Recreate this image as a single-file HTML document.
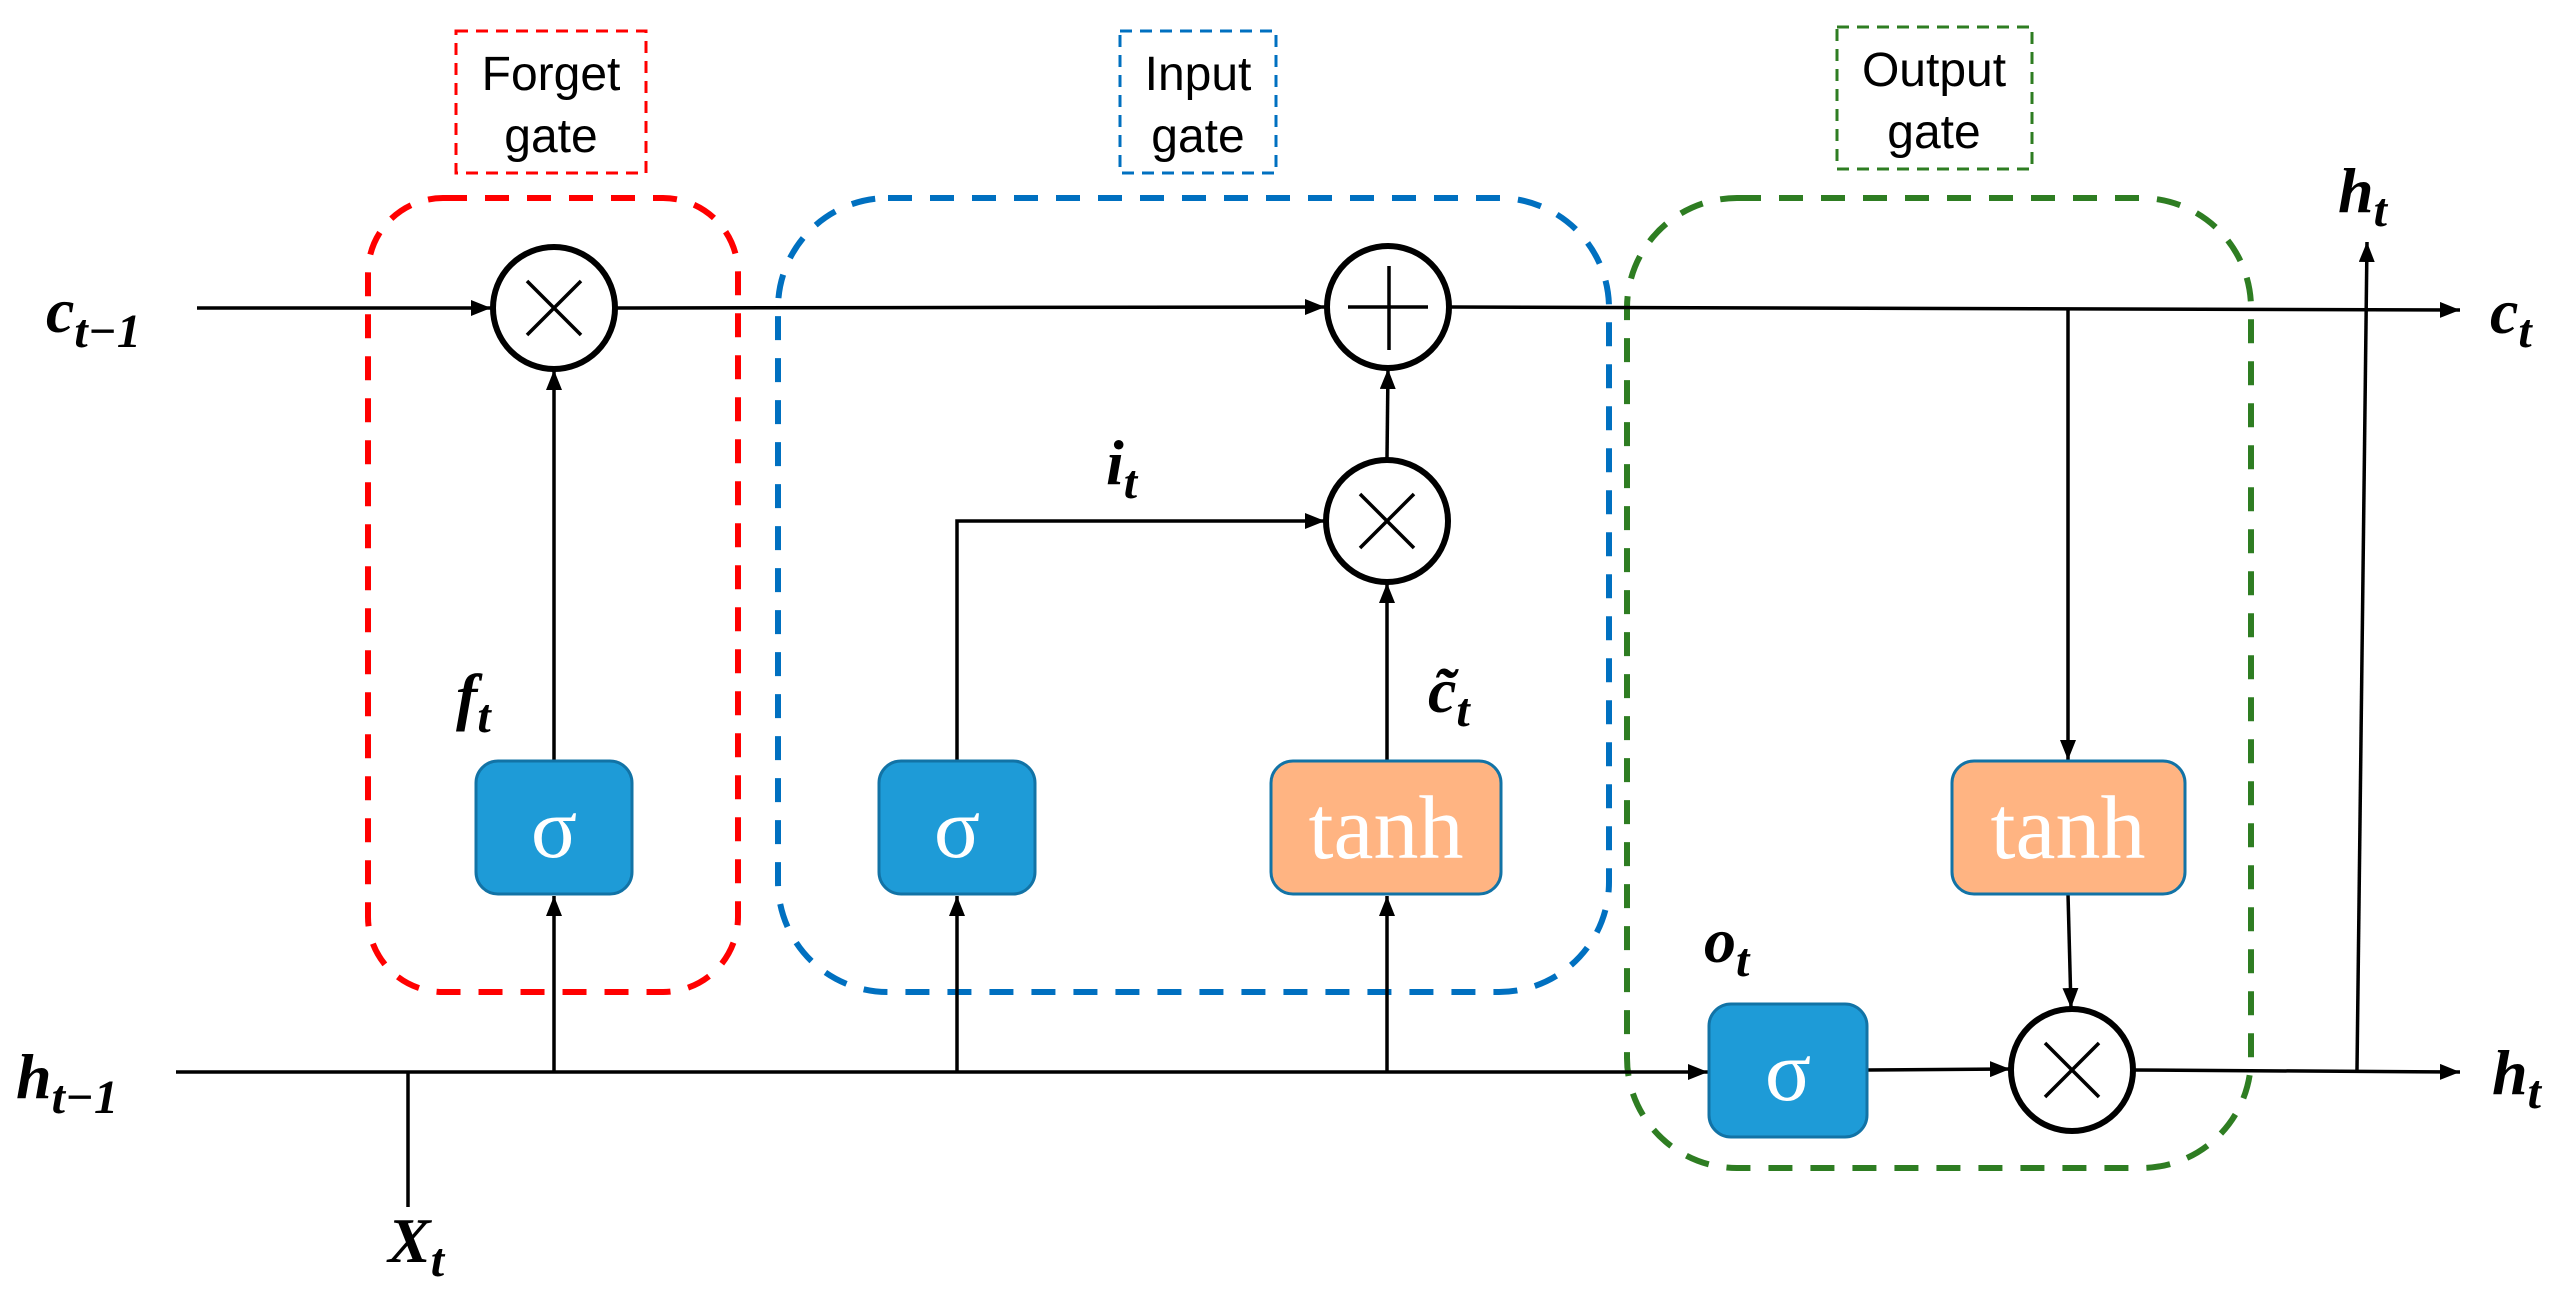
<!DOCTYPE html>
<html><head><meta charset="utf-8"><style>
html,body{margin:0;padding:0;background:#fff;}
svg{display:block;}
.m{font-family:"Liberation Serif",serif;font-weight:bold;font-style:italic;fill:#000;}
.g{font-family:"Liberation Sans",sans-serif;font-size:48px;fill:#000;}
.w{font-family:"Liberation Serif",serif;fill:#fff;}
</style></head><body>
<svg width="2572" height="1308" viewBox="0 0 2572 1308" xmlns="http://www.w3.org/2000/svg">
<defs>
<marker id="A" markerWidth="20" markerHeight="16" refX="20" refY="8" orient="auto" markerUnits="userSpaceOnUse" viewBox="0 0 20 16">
<path d="M0,0 L20,8 L0,16 z" fill="#000"/></marker>
</defs>
<rect x="456" y="31" width="190" height="142" fill="none" stroke="#ff0000" stroke-width="3" stroke-dasharray="12,8"/>
<text class="g" x="551" y="90" text-anchor="middle">Forget</text>
<text class="g" x="551" y="152" text-anchor="middle">gate</text>
<rect x="1120" y="31" width="156" height="142" fill="none" stroke="#0070c0" stroke-width="3" stroke-dasharray="12,8"/>
<text class="g" x="1198" y="90" text-anchor="middle">Input</text>
<text class="g" x="1198" y="152" text-anchor="middle">gate</text>
<rect x="1837" y="27" width="195" height="142" fill="none" stroke="#2e7d22" stroke-width="3" stroke-dasharray="12,8"/>
<text class="g" x="1934" y="86" text-anchor="middle">Output</text>
<text class="g" x="1934" y="148" text-anchor="middle">gate</text>

<rect x="368" y="198" width="370" height="794" rx="75" fill="none" stroke="#ff0000" stroke-width="6" stroke-dasharray="24,18"/>
<rect x="778" y="198" width="831" height="794" rx="110" fill="none" stroke="#0070c0" stroke-width="6" stroke-dasharray="24,18"/>
<rect x="1627" y="198" width="624" height="970" rx="110" fill="none" stroke="#2e7d22" stroke-width="6" stroke-dasharray="24,18"/>

<g stroke="#000" stroke-width="3.5" fill="none">
<line x1="197" y1="308" x2="491" y2="308" marker-end="url(#A)"/>
<line x1="616" y1="308" x2="1325" y2="307" marker-end="url(#A)"/>
<line x1="1450" y1="307" x2="2460" y2="310" marker-end="url(#A)"/>
<line x1="176" y1="1072" x2="1708" y2="1072" marker-end="url(#A)"/>
<line x1="408" y1="1072" x2="408" y2="1207"/>
<line x1="554" y1="761" x2="554" y2="370" marker-end="url(#A)"/>
<line x1="554" y1="1072" x2="554" y2="896" marker-end="url(#A)"/>
<line x1="957" y1="1072" x2="957" y2="896" marker-end="url(#A)"/>
<polyline points="957,761 957,521 1325,521" marker-end="url(#A)"/>
<line x1="1387" y1="1072" x2="1387" y2="896" marker-end="url(#A)"/>
<line x1="1387" y1="761" x2="1387" y2="583" marker-end="url(#A)"/>
<line x1="1387" y1="458" x2="1388" y2="369" marker-end="url(#A)"/>
<line x1="2068" y1="309" x2="2068" y2="760" marker-end="url(#A)"/>
<line x1="2068" y1="894" x2="2071" y2="1008" marker-end="url(#A)"/>
<line x1="1867" y1="1070" x2="2010" y2="1069" marker-end="url(#A)"/>
<line x1="2133" y1="1070" x2="2460" y2="1072" marker-end="url(#A)"/>
<line x1="2357" y1="1070" x2="2367" y2="242" marker-end="url(#A)"/>
</g>

<g stroke="#000" fill="#fff">
<circle cx="554" cy="308" r="61" stroke-width="6"/>
<circle cx="1388" cy="307" r="61" stroke-width="6"/>
<circle cx="1387" cy="521" r="61" stroke-width="6"/>
<circle cx="2072" cy="1070" r="61" stroke-width="6"/>
</g>
<g stroke="#000" stroke-width="3.5">
<line x1="527" y1="281" x2="581" y2="335"/><line x1="581" y1="281" x2="527" y2="335"/>
<line x1="1348" y1="307" x2="1428" y2="307"/><line x1="1389" y1="266" x2="1389" y2="350"/>
<line x1="1360" y1="494" x2="1414" y2="548"/><line x1="1414" y1="494" x2="1360" y2="548"/>
<line x1="2045" y1="1043" x2="2099" y2="1097"/><line x1="2099" y1="1043" x2="2045" y2="1097"/>
</g>

<g stroke="#1273a6" stroke-width="3" fill="#1e9bd7">
<rect x="476" y="761" width="156" height="133" rx="22"/>
<rect x="879" y="761" width="156" height="133" rx="22"/>
<rect x="1709" y="1004" width="158" height="133" rx="22"/>
</g>
<g stroke="#1273a6" stroke-width="3" fill="#ffb482">
<rect x="1271" y="761" width="230" height="133" rx="22"/>
<rect x="1952" y="761" width="233" height="133" rx="22"/>
</g>
<g class="w" font-size="86" text-anchor="middle">
<text x="554" y="857">σ</text>
<text x="957" y="857">σ</text>
<text x="1788" y="1100">σ</text>
</g>
<g class="w" font-size="90" text-anchor="middle">
<text x="1386" y="858">tanh</text>
<text x="2068" y="858">tanh</text>
</g>

<text class="m" x="46" y="332" font-size="64">c<tspan font-size="48" dy="15">t−1</tspan></text>
<text class="m" x="16" y="1098" font-size="64">h<tspan font-size="48" dy="15">t−1</tspan></text>
<text class="m" x="388" y="1262" font-size="64">X<tspan font-size="48" dy="14">t</tspan></text>
<text class="m" x="456" y="718" font-size="64">f<tspan font-size="48" dy="14">t</tspan></text>
<text class="m" x="1106" y="484" font-size="64">i<tspan font-size="48" dy="14">t</tspan></text>
<text class="m" x="1428" y="712" font-size="64">c̃<tspan font-size="48" dy="14">t</tspan></text>
<text class="m" x="1704" y="962" font-size="64">o<tspan font-size="48" dy="14">t</tspan></text>
<text class="m" x="2338" y="212" font-size="64">h<tspan font-size="48" dy="14">t</tspan></text>
<text class="m" x="2490" y="333" font-size="64">c<tspan font-size="48" dy="14">t</tspan></text>
<text class="m" x="2492" y="1094" font-size="64">h<tspan font-size="48" dy="14">t</tspan></text>
</svg>
</body></html>
